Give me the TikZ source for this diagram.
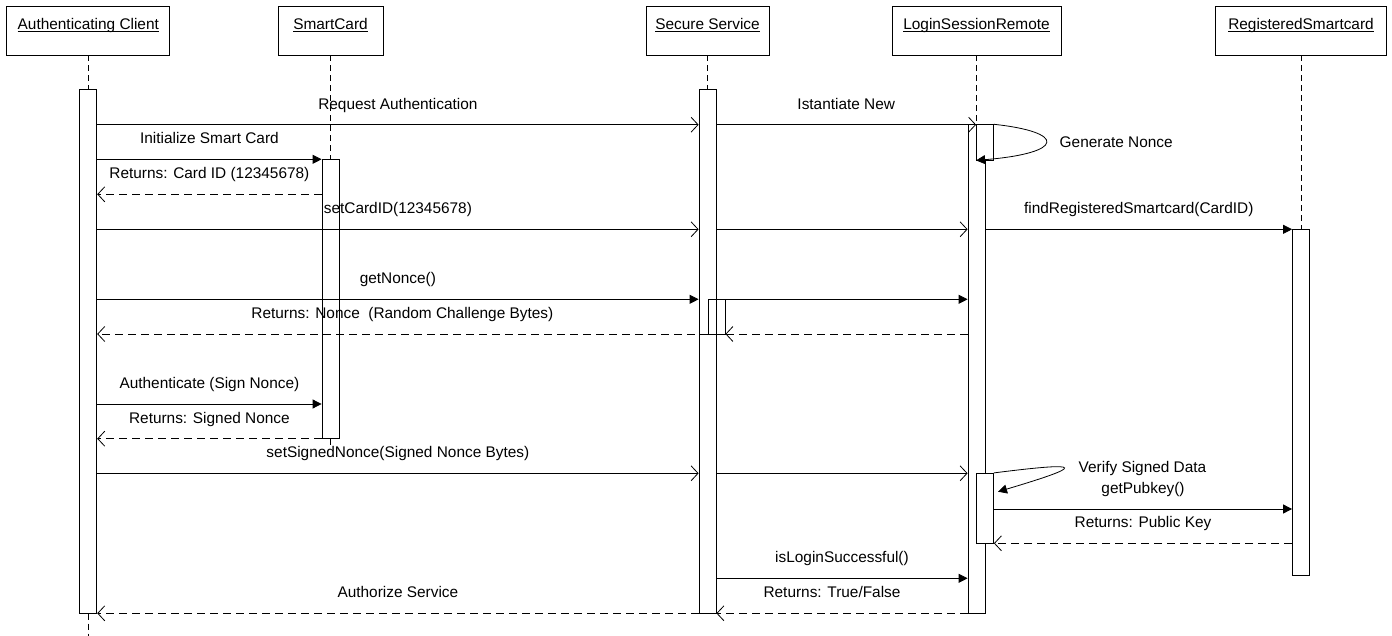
\documentclass[tikz,border=0pt]{standalone}
\usepackage{fontspec}
\setmainfont{Liberation Sans}
\usetikzlibrary{arrows.meta}

\newcommand{\objname}[1]{\underline{\smash{#1}}}

\begin{document}
\begin{tikzpicture}[x=1pt, y=-1pt, line width=0.8pt,
    font=\fontsize{15.4}{18}\selectfont,
    obj/.style={draw, fill=white, minimum height=49pt, inner sep=0pt},
    bar/.style={draw, fill=white, minimum width=17pt, inner sep=0pt},
    life/.style={dash pattern=on 6pt off 4pt},
    call/.style={-{Triangle[length=9pt, width=9pt]}},
    async/.style={-{Straight Barb[length=7pt, width=15pt]}},
    reply/.style={dash pattern=on 8pt off 5pt, -{Straight Barb[length=7pt, width=15pt]}},
    lbl/.style={midway, anchor=base, yshift=15.5pt},
    note/.style={anchor=base west}]

\useasboundingbox (0,0) rectangle (1392,636);

%% Objects
\node[obj, minimum width=163pt] (client) at (88.3,30.5) {\objname{Authenticating Client}};
\node[obj, minimum width=105pt] (card) at (330.5,30.5) {\objname{SmartCard}};
\node[obj, minimum width=123pt] (service) at (707.5,30.5) {\objname{Secure Service}};
\node[obj, minimum width=169pt] (session) at (976.5,30.5) {\objname{LoginSessionRemote}};
\node[obj, minimum width=171pt] (regcard) at (1301,30.5) {\objname{RegisteredSmartcard}};

%% Activation bars
\node[bar, minimum height=524pt] (clientbar) at (88.3,351.3) {};
\node[bar, minimum height=279.4pt] (cardbar) at (330.5,299) {};
\node[bar, minimum height=524pt] (servicebar) at (707.5,351.3) {};
\node[bar, minimum height=488.6pt] (sessionbar) at (976.5,369) {};
\node[bar, minimum height=345.7pt] (regbar) at (1301,402.15) {};
\node[bar, fill=none, minimum height=34.7pt] (replybar) at (716.5,316.65) {};
\node[bar, minimum height=35.3pt] (noncebar) at (985,142.35) {};
\node[bar, minimum height=70pt] (verifybar) at (985,508.3) {};

%% Lifelines
\coordinate (clientend) at (88.3,636);
\coordinate (cardend) at (330.5,448);
\draw[life] (client.south) -- (clientbar.north);
\draw[life] (clientbar.south) -- (clientend);
\draw[life] (card.south) -- (cardbar.north);
\draw[life] (cardbar.south) -- (cardend);
\draw[life] (service.south) -- (servicebar.north);
\draw[life] (session.south) -- (sessionbar.north);
\draw[life] (regcard.south) -- (regbar.north);

%% Message rows
\coordinate (m1) at (0,124.7);
\coordinate (m2) at (0,159.3);
\coordinate (m3) at (0,194.3);
\coordinate (m4) at (0,229.3);
\coordinate (m5) at (0,299.3);
\coordinate (m6) at (0,334);
\coordinate (m7) at (0,404);
\coordinate (m8) at (0,438.7);
\coordinate (m9) at (0,473.3);
\coordinate (m10) at (0,509);
\coordinate (m11) at (0,543.3);
\coordinate (m12) at (0,578.3);
\coordinate (m13) at (0,613.3);

% Request / instantiate
\draw[async] (clientbar.east |- m1) -- node[lbl] {Request Authentication} (servicebar.west |- m1);
\draw[async] (servicebar.east |- m1) -- node[lbl] {Istantiate New} (noncebar.west |- m1);

% Generate nonce (self call)
\draw[call] (noncebar.north east) .. controls (1066,132) and (1066,153) .. (noncebar.south west);
\node[note] (gennonce) at (1056,147.5) {Generate Nonce};

% Smart card init
\draw[call] (clientbar.east |- m2) -- node[lbl] {Initialize Smart Card} (cardbar.west |- m2);
\draw[reply] (cardbar.west |- m3) -- node[lbl] {Returns: Card ID (12345678)} (clientbar.east |- m3);

% Card ID
\draw[async] (clientbar.east |- m4) -- node[lbl] {setCardID(12345678)} (servicebar.west |- m4);
\draw[async] (servicebar.east |- m4) -- (sessionbar.west |- m4);
\draw[call] (sessionbar.east |- m4) -- node[lbl] {findRegisteredSmartcard(CardID)} (regbar.west |- m4);

% Nonce
\draw[call] (clientbar.east |- m5) -- node[lbl] {getNonce()} (servicebar.west |- m5);
\draw[call] (replybar.east |- m5) -- (sessionbar.west |- m5);
\draw[reply] (sessionbar.west |- m6) -- (replybar.east |- m6);
\draw[reply] (replybar.west |- m6) -- node[lbl] {Returns: Nonce\ \ (Random Challenge Bytes)} (clientbar.east |- m6);

% Signing
\draw[call] (clientbar.east |- m7) -- node[lbl] {Authenticate (Sign Nonce)} (cardbar.west |- m7);
\draw[reply] (cardbar.west |- m8) -- node[lbl] {Returns: Signed Nonce} (clientbar.east |- m8);

% Signed nonce
\draw[async] (clientbar.east |- m9) -- node[lbl] {setSignedNonce(Signed Nonce Bytes)} (servicebar.west |- m9);
\draw[async] (servicebar.east |- m9) -- (sessionbar.west |- m9);

% Verify (self call)
\coordinate (verifytip) at (998,491.7);
\draw[call] (verifybar.north east) .. controls (1088,461) and (1084,466) .. (verifytip);
\node[note] (verify) at (1075,472) {Verify Signed Data};

% Public key
\draw[call] (verifybar.east |- m10) -- node[lbl] {getPubkey()} (regbar.west |- m10);
\draw[reply] (regbar.west |- m11) -- node[lbl] {Returns: Public Key} (verifybar.east |- m11);

% Login result
\draw[call] (servicebar.east |- m12) -- node[lbl] {isLoginSuccessful()} (sessionbar.west |- m12);
\draw[reply] (sessionbar.west |- m13) -- node[lbl, xshift=-10pt] {Returns: True/False} (servicebar.east |- m13);
\draw[reply] (servicebar.west |- m13) -- node[lbl] {Authorize Service} (clientbar.east |- m13);

\end{tikzpicture}
\end{document}
